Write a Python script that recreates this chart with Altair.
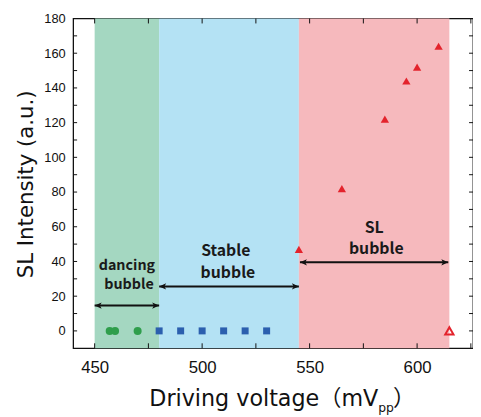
import altair as alt
import pandas as pd

# ---- data ----
dancing_v = [457, 459.5, 470]
dancing_i = [0, 0, 0]
stable_v = [480, 490, 500, 510, 520, 530]
stable_i = [0, 0, 0, 0, 0, 0]
sl_v = [545, 565, 585, 595, 600, 610]
sl_i = [47, 82, 122, 144, 152, 164]
open_v = [615]
open_i = [0]

region_names = ["dancing", "stable", "sl"]
region_start = [450, 480, 545]
region_end = [480, 545, 615]
region_colors = ["#a4d7c1", "#b4e2f4", "#f6b9bd"]

arrow_start = [450, 480, 545.5]
arrow_end = [480, 545, 614.5]
arrow_y = [14.6, 25.6, 39.5]

label_text = ["dancing", "bubble", "Stable", "bubble", "SL", "bubble"]
label_x = [465, 466, 511, 512, 580, 581]
label_y = [37.3, 26.2, 46, 33.5, 59.4, 47.1]
label_size = [14.5, 14.5, 16, 16, 16, 16]

x_ticks = [450, 500, 550, 600]
y_ticks = [0, 20, 40, 60, 80, 100, 120, 140, 160, 180]
x_minor = [450, 475, 500, 525, 550, 575, 600, 625]
y_minor = [0, 10, 20, 30, 40, 50, 60, 70, 80, 90, 100, 110, 120, 130, 140, 150, 160, 170, 180]

W, H = 405, 334
XDOM = [440, 626]
YDOM = [-10, 180]

TITLE_FONT = "DejaVu Sans, Noto Sans CJK JP"

xscale = alt.Scale(domain=XDOM, nice=False, zero=False)
yscale = alt.Scale(domain=YDOM, nice=False, zero=False)

xaxis = alt.Axis(values=x_ticks, title=None, ticks=False, domain=False, grid=False,
                 labelFont="Liberation Sans", labelFontSize=17, labelColor="#111",
                 labelPadding=12)
yaxis = alt.Axis(values=y_ticks, title=None, ticks=False, domain=False, grid=False,
                 labelFont="Liberation Sans", labelFontSize=13, labelColor="#111",
                 labelPadding=8)

X = lambda f: alt.X(f, type="quantitative", scale=xscale, axis=xaxis)
Y = lambda f: alt.Y(f, type="quantitative", scale=yscale, axis=yaxis)

regions = pd.DataFrame({"name": region_names, "s": region_start, "e": region_end, "c": region_colors})
band = alt.Chart(regions).mark_rect(opacity=1).encode(
    x=X("s"), x2="e", color=alt.Color("c:N", scale=None)
)

# ticks (inward)
ty = pd.DataFrame({"v": y_minor})
tx = pd.DataFrame({"v": x_minor})
tick_style = dict(color="#111", strokeWidth=1)
lt = alt.Chart(ty).mark_rule(**tick_style).encode(y=Y("v"), x=alt.value(0), x2=alt.value(4))
rt = alt.Chart(ty).mark_rule(**tick_style).encode(y=Y("v"), x=alt.value(W - 4), x2=alt.value(W))
tt = alt.Chart(tx).mark_rule(**tick_style).encode(x=X("v"), y=alt.value(0), y2=alt.value(5))
bt = alt.Chart(tx).mark_rule(**tick_style).encode(x=X("v"), y=alt.value(H - 5), y2=alt.value(H))

d1 = pd.DataFrame({"v": dancing_v, "i": dancing_i})
d2 = pd.DataFrame({"v": stable_v, "i": stable_i})
d3 = pd.DataFrame({"v": sl_v, "i": sl_i})
d4 = pd.DataFrame({"v": open_v, "i": open_i})

p1 = alt.Chart(d1).mark_point(shape="circle", filled=True, size=66, color="#2f9e4c", opacity=1).encode(x=X("v"), y=Y("i"))
p2 = alt.Chart(d2).mark_point(shape="square", filled=True, size=50, color="#2b5fae", opacity=1).encode(x=X("v"), y=Y("i"))
p3 = alt.Chart(d3).mark_point(shape="triangle-up", filled=True, size=70, color="#e3232c", opacity=1).encode(x=X("v"), y=Y("i"))
p4 = alt.Chart(d4).mark_point(shape="triangle-up", filled=False, size=70, color="#e3232c", strokeWidth=2, opacity=1).encode(x=X("v"), y=Y("i"))

arrows = pd.DataFrame({"s": arrow_start, "e": arrow_end, "y": arrow_y})
aline = alt.Chart(arrows).mark_rule(color="#111", strokeWidth=2).encode(x=X("s"), x2="e", y=Y("y"))
ahead_l = alt.Chart(arrows).mark_point(
    shape="M0,0 L1,-0.45 L0.75,0 L1,0.45 Z", filled=True, size=200, color="#111", opacity=1
).encode(x=X("s"), y=Y("y"))
ahead_r = alt.Chart(arrows).mark_point(
    shape="M0,0 L-1,-0.45 L-0.75,0 L-1,0.45 Z", filled=True, size=200, color="#111", opacity=1
).encode(x=X("e"), y=Y("y"))

labels = pd.DataFrame({"t": label_text, "x": label_x, "y": label_y, "s": label_size})
ltext = alt.Chart(labels).mark_text(
    font="Noto Sans CJK JP", fontWeight="bold", color="#1a1a1a", align="center", baseline="middle"
).encode(x=X("x"), y=Y("y"), text="t:N", size=alt.Size("s:Q", scale=None))

# axis titles
ytitle = alt.Chart(pd.DataFrame({"t": ["SL Intensity (a.u.)"]})).mark_text(
    font=TITLE_FONT, fontSize=21.5, angle=270, align="center", baseline="middle", color="#111"
).encode(text="t:N", x=alt.value(-47), y=alt.value(168))
xtitle = alt.Chart(pd.DataFrame({"t": ["Driving voltage（mV"]})).mark_text(
    font=TITLE_FONT, fontSize=22.5, align="right", baseline="alphabetic", color="#111"
).encode(text="t:N", x=alt.value(309), y=alt.value(392))
xsub = alt.Chart(pd.DataFrame({"t": ["pp"]})).mark_text(
    font=TITLE_FONT, fontSize=12.5, align="left", baseline="alphabetic", color="#111"
).encode(text="t:N", x=alt.value(309), y=alt.value(399))
xclose = alt.Chart(pd.DataFrame({"t": ["）"]})).mark_text(
    font="Noto Sans CJK JP", fontSize=22.5, align="left", baseline="alphabetic", color="#111"
).encode(text="t:N", x=alt.value(324), y=alt.value(392))

chart = alt.layer(
    band, lt, rt, tt, bt, aline, ahead_l, ahead_r, ltext, p1, p2, p3, p4,
    ytitle, xtitle, xsub, xclose
).properties(
    width=W, height=H,
    autosize=alt.AutoSizeParams(type="none"),
    padding={"left": 66, "top": 8, "right": 0, "bottom": 67},
).configure_view(stroke="#111", strokeWidth=1.3)

chart.save("out.html", embed_options={"renderer": "svg", "actions": False})
